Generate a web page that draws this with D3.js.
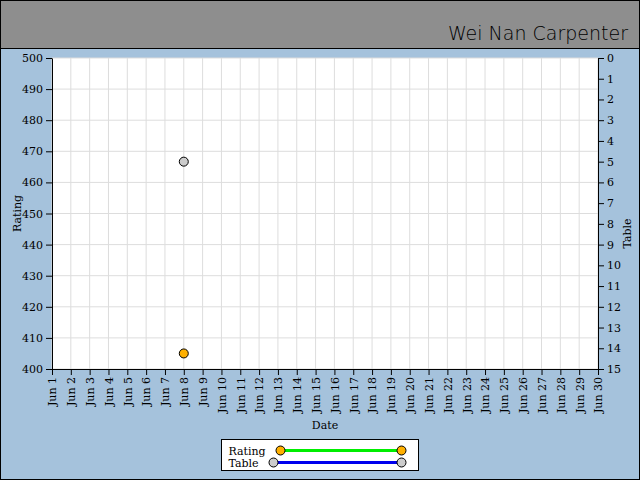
<!DOCTYPE html>
<html>
<head>
<meta charset="utf-8">
<script src="https://cdn.jsdelivr.net/npm/d3@7"></script>
<style>
  body { margin: 0; padding: 0; }
  svg text { font-family: "DejaVu Serif", serif; }
</style>
</head>
<body>
<div id="chart"></div>
<script>
// Chart data
const title = "Wei Nan Carpenter";
const days = d3.range(1, 31);               // Jun 1 .. Jun 30
const dayLabels = days.map(d => "Jun " + d);
const ratingDays = [8];
const ratingValues = [405];
const tableDays = [8];
const tableValues = [5];
const ratingTicks = d3.range(400, 501, 10);
const tableTicks = d3.range(0, 16, 1);

const W = 640, H = 480;
const margin = {top: 58, right: 42, bottom: 111, left: 52};
const width = W - margin.left - margin.right,
      height = H - margin.top - margin.bottom;

const svg = d3.select("#chart").append("svg")
    .attr("width", W)
    .attr("height", H);

// background + title bar
svg.append("rect").attr("x", 0.5).attr("y", 0.5).attr("width", W - 1).attr("height", H - 1)
    .attr("fill", "#a5c2dc").attr("stroke", "#000");
svg.append("rect").attr("x", 0.5).attr("y", 0.5).attr("width", W - 1).attr("height", 48)
    .attr("fill", "#8e8e8e").attr("stroke", "#000");
svg.append("text")
    .attr("x", 628).attr("y", 40)
    .attr("text-anchor", "end")
    .style("font-family", "'DejaVu Sans', sans-serif")
    .style("font-size", "19px")
    .style("font-weight", "200")
    .attr("fill", "#000")
    .text(title);

const g = svg.append("g").attr("transform", `translate(${margin.left},${margin.top})`);

// scales
const x = d3.scaleLinear().domain([1, 30]).range([0, width]);
const yRating = d3.scaleLinear().domain([400, 500]).range([height, 0]);
const yTable = d3.scaleLinear().domain([0, 15]).range([0, height]);

g.append("rect").attr("width", width).attr("height", height).attr("fill", "#fff");

// grid
g.selectAll(".vgrid").data(days).enter().append("line")
    .attr("x1", d => x(d)).attr("x2", d => x(d))
    .attr("y1", 0).attr("y2", height)
    .attr("stroke", "#dddddd");
g.selectAll(".hgrid").data(ratingTicks).enter().append("line")
    .attr("x1", 0).attr("x2", width)
    .attr("y1", d => yRating(d)).attr("y2", d => yRating(d))
    .attr("stroke", "#dddddd");

// axes
const styleAxis = sel => {
  sel.select(".domain").attr("stroke", "#000");
  sel.selectAll(".tick line").attr("stroke", "#000");
  sel.selectAll("text").style("font-family", "'DejaVu Serif', serif").style("font-size", "11px").attr("fill", "#000");
};

g.append("g")
    .call(d3.axisLeft(yRating).tickValues(ratingTicks).tickSizeOuter(0))
    .call(styleAxis);

g.append("g")
    .attr("transform", `translate(${width},0)`)
    .call(d3.axisRight(yTable).tickValues(tableTicks).tickSizeOuter(0))
    .call(styleAxis);

const xAxis = g.append("g")
    .attr("transform", `translate(0,${height})`)
    .call(d3.axisBottom(x).tickValues(days).tickFormat(d => dayLabels[d - 1]).tickSizeOuter(0))
    .call(styleAxis);
xAxis.selectAll("text")
    .attr("transform", "rotate(-90)")
    .attr("x", -8).attr("y", 0).attr("dy", "0.35em")
    .style("text-anchor", "end");

// axis titles
g.append("text")
    .attr("transform", `translate(${-31},${height / 2}) rotate(-90)`)
    .attr("text-anchor", "middle")
    .style("font-size", "11px")
    .text("Rating");
g.append("text")
    .attr("transform", `translate(${width + 33},${height / 2 + 20}) rotate(-90)`)
    .attr("text-anchor", "middle")
    .style("font-size", "11px")
    .text("Table");
g.append("text")
    .attr("x", width / 2).attr("y", height + 60)
    .attr("text-anchor", "middle")
    .style("font-size", "11px")
    .text("Date");

// points
g.selectAll(".rating").data(ratingDays).enter().append("circle")
    .attr("cx", d => x(d)).attr("cy", (d, i) => yRating(ratingValues[i]))
    .attr("r", 4.5).attr("fill", "#ffb000").attr("stroke", "#000");
g.selectAll(".table").data(tableDays).enter().append("circle")
    .attr("cx", d => x(d)).attr("cy", (d, i) => yTable(tableValues[i]))
    .attr("r", 4.5).attr("fill", "#cccccc").attr("stroke", "#000");

// legend
const legend = svg.append("g").attr("transform", "translate(221.5,439.5)");
legend.append("rect").attr("width", 197).attr("height", 31).attr("fill", "#fff").attr("stroke", "#000");
const legendItems = [
  {name: "Rating", color: "#00ee00", fill: "#ffb000", x0: 59, y: 11},
  {name: "Table", color: "#0000ee", fill: "#cccccc", x0: 52, y: 23}
];
legendItems.forEach(it => {
  legend.append("text").attr("x", 7).attr("y", it.y + 4).style("font-size", "11px").text(it.name);
  legend.append("line").attr("x1", it.x0).attr("x2", 180).attr("y1", it.y).attr("y2", it.y)
      .attr("stroke", it.color).attr("stroke-width", 3);
  [it.x0, 180].forEach(cx => legend.append("circle").attr("cx", cx).attr("cy", it.y)
      .attr("r", 4.5).attr("fill", it.fill).attr("stroke", "#000"));
});
</script>
</body>
</html>
